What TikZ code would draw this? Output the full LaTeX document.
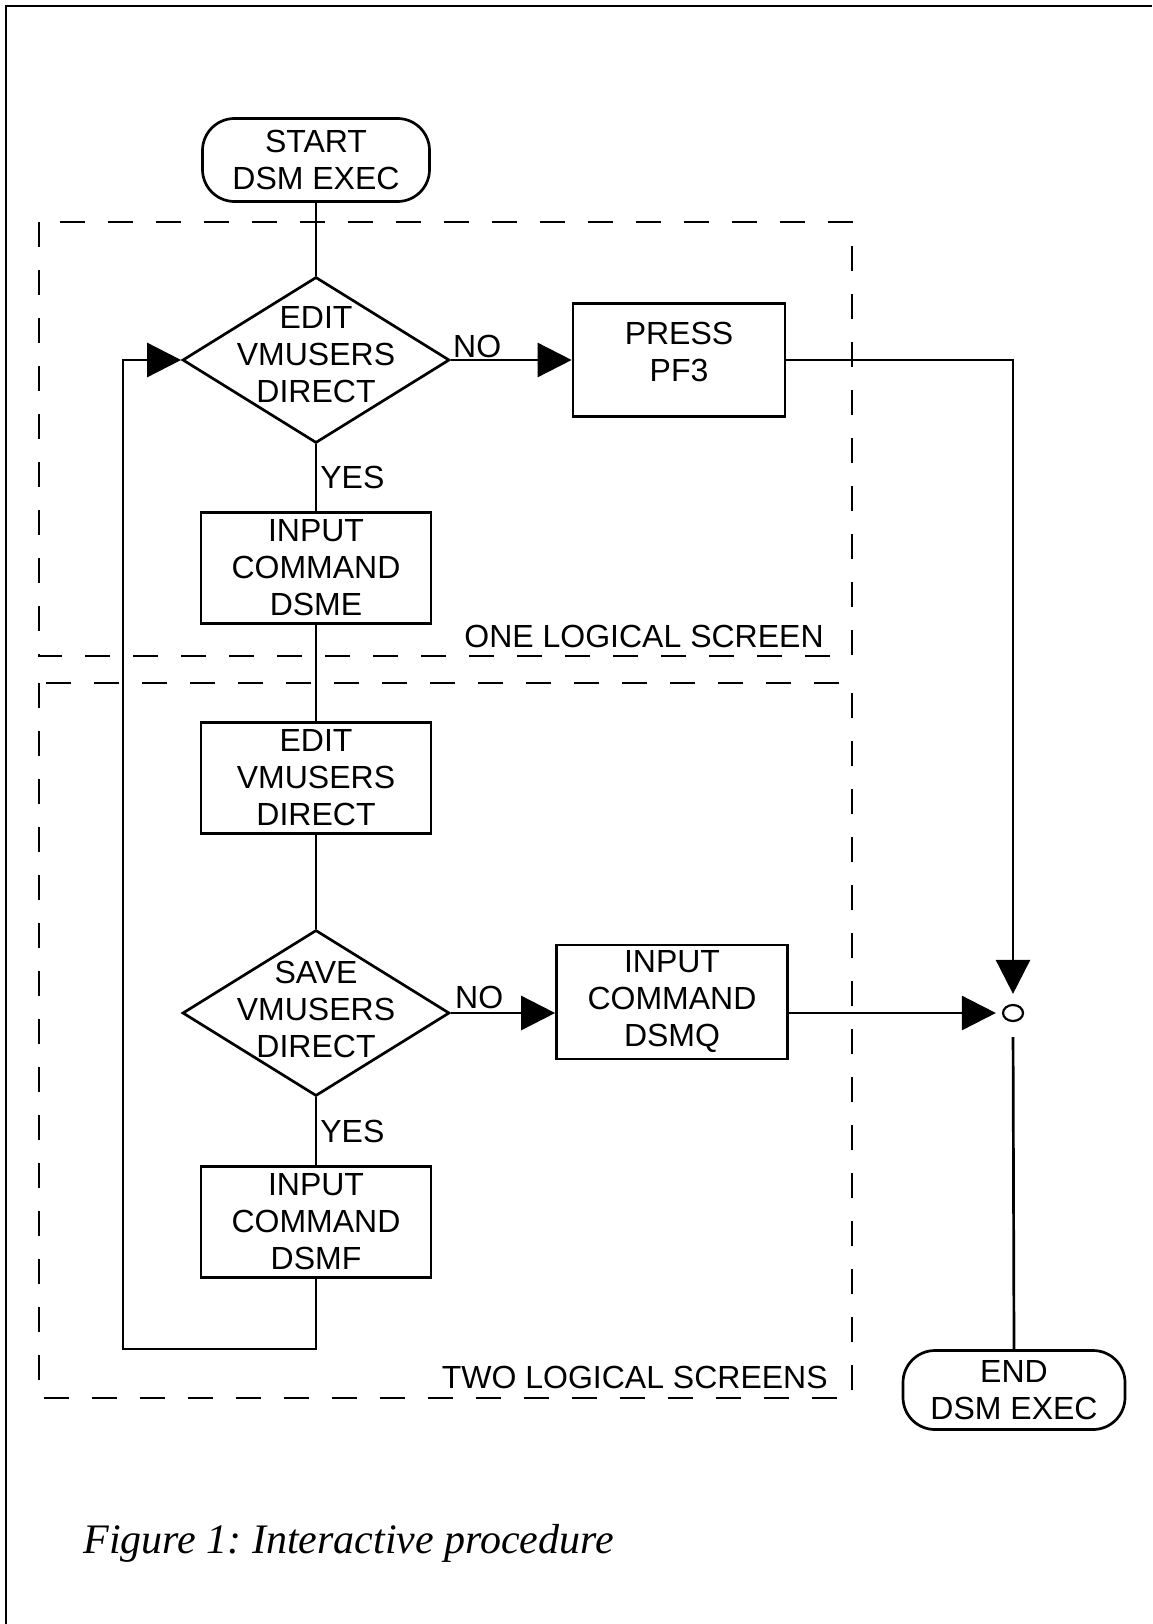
\documentclass[tikz,border=0pt]{standalone}
\usepackage{fontspec}
\setmainfont{Liberation Sans}
\newfontfamily\figfont{Liberation Serif}
\usetikzlibrary{shapes.geometric,arrows.meta}
\frenchspacing

\begin{document}
\begin{tikzpicture}[x=1pt, y=-1pt, >={Triangle[length=34pt,width=34pt]}, line width=2.7pt,
		every node/.style={font=\fontsize{32}{37}\selectfont, align=center},
		terminal/.style={draw, rounded corners=32pt, minimum width=227pt, minimum height=83pt, inner sep=0pt},
		process/.style={draw, rectangle, minimum width=230pt, minimum height=111pt, inner sep=0pt},
		decision/.style={draw, diamond, minimum width=267pt, minimum height=166pt, inner sep=0pt},
		screen/.style={dash pattern=on 25pt off 23pt, line width=2.5pt},
		answer/.style={inner sep=3pt}]
			\useasboundingbox (0,0) rectangle (1152,1624);

			% Рамка
			\draw[line width=2.7pt] (6,1624) -- (6,6) -- (1152,6);

			% Логические экраны
			\draw[screen] (39,222) rectangle (852,656);
			\draw[screen] (39,683) rectangle (852,1398);
			\node[anchor=east, inner sep=0pt] (onescr) at (825,636) {ONE LOGICAL SCREEN};
			\node[anchor=east, inner sep=0pt] (twoscr) at (829,1377) {TWO LOGICAL SCREENS};

			% Блоки
			\node[terminal] (start) at (316,160) {START\\DSM EXEC};
			\node[decision, label={[yshift=5pt]center:EDIT\\VMUSERS\\DIRECT}] (editq) at (316,360) {};
			\node[process, minimum width=212pt, minimum height=113pt, label={[yshift=8pt]center:PRESS\\PF3}] (press) at (679,360) {};
			\node[process] (dsme) at (316,568) {INPUT\\COMMAND\\DSME};
			\node[process] (editv) at (316,778) {EDIT\\VMUSERS\\DIRECT};
			\node[decision, label={[yshift=4pt]center:SAVE\\VMUSERS\\DIRECT}] (saveq) at (316,1013) {};
			\node[process, minimum width=231pt, minimum height=114pt] (dsmq) at (672,1002) {INPUT\\COMMAND\\DSMQ};
			\node[process] (dsmf) at (316,1222) {INPUT\\COMMAND\\DSMF};
			\node[draw, ellipse, minimum width=20pt, minimum height=16pt, inner sep=0pt, line width=2.2pt] (join) at (1013,1013) {};
			\node[terminal, minimum width=222pt, minimum height=79pt] (stop) at (1014,1390) {END\\DSM EXEC};
			\coordinate (loop) at (123,1349);

			% Связи
			\draw (start) -- (editq);
			\draw (editq) -- node[answer, anchor=west] {YES} (dsme);
			\draw (dsme) -- (editv);
			\draw (editv) -- (saveq);
			\draw (saveq) -- node[answer, anchor=west] {YES} (dsmf);
			\draw[->] (editq.east) -- node[answer, pos=0, anchor=south west, inner sep=1pt] {NO} (press);
			\draw[->] (saveq.east) -- node[answer, pos=0, anchor=south west, inner sep=3pt] {NO} (saveq.east -| dsmq.west);
			\draw[->, shorten >=10pt] (press.east) -| (join.north);
			\draw[->, shorten >=6pt] (dsmq.east |- join.west) -- (join.west);
			\draw[shorten <=15pt] (join.south) -- (stop.north);
			\draw[->] (dsmf.south) |- (loop) |- (editq.west);

			% Подпись
			\node[anchor=base west, inner sep=0pt, font=\figfont\itshape\fontsize{42}{46}\selectfont] (caption) at (82,1553) {Figure 1: Interactive procedure};
		\end{tikzpicture}
\end{document}
